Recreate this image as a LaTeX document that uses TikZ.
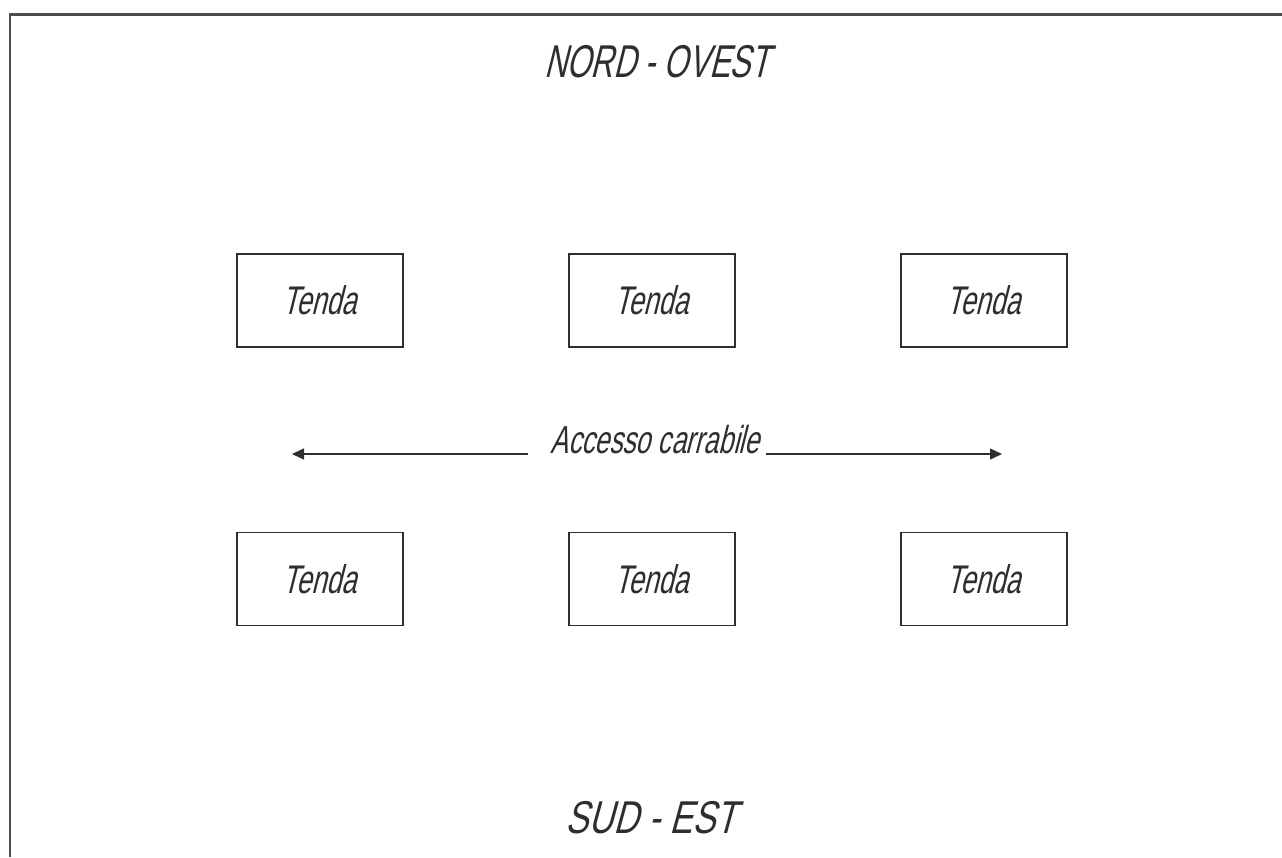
\documentclass[tikz,border=0pt]{standalone}
\usepackage{fontspec}
\usepackage{graphicx}
\setmainfont{Liberation Sans}[FakeSlant=0.25,FakeStretch=0.68]
\usetikzlibrary{arrows.meta}
\definecolor{ink}{HTML}{2E2E2E}
\tikzset{
  frame/.style={line width=2.4pt,draw=ink!85},
  tent/.style={draw=ink,line width=1.2pt,minimum width=166pt,minimum height=93pt,inner sep=0pt,
    font=\fontsize{40}{40}\selectfont,text=ink},
  side/.style={font=\fontsize{46}{46}\selectfont,text=ink,anchor=base,inner sep=0pt},
  road/.style={line width=1.4pt,draw=ink,-{Triangle[length=12pt,width=11pt]}},
  roadlabel/.style={font=\fontsize{39}{39}\selectfont,text=ink,anchor=base,inner sep=0pt}
}
\begin{document}
\begin{tikzpicture}[x=1pt,y=-1pt]
\useasboundingbox (0,0) rectangle (1282,857);
\fill[white] (0,0) rectangle (1282,857);
% outer boundary (left and top edges)
\draw[frame] (10,857) -- (10,14.5) -- (1282,14.5);

% orientation labels
\node[side] (nw) at (657,77) {NORD - OVEST};
\node[side] (se) at (651,833) {\scalebox{1.1}[1]{SUD - EST}};

% tents, upper row
\node[tent] (t1) at (320,300.5) {Tenda};
\node[tent] (t2) at (652,300.5) {Tenda};
\node[tent] (t3) at (984,300.5) {Tenda};
% tents, lower row
\node[tent] (t4) at (320,579) {Tenda};
\node[tent] (t5) at (652,579) {Tenda};
\node[tent] (t6) at (984,579) {Tenda};

% driveway between the rows
\node[roadlabel] (acc) at (655,453) {Accesso carrabile};
\coordinate (accL) at (528,454);
\coordinate (accR) at (766,454);
\coordinate (endL) at (292,454);
\coordinate (endR) at (1002,454);
\draw[road] (accL) -- (endL);
\draw[road] (accR) -- (endR);
\end{tikzpicture}
\end{document}
